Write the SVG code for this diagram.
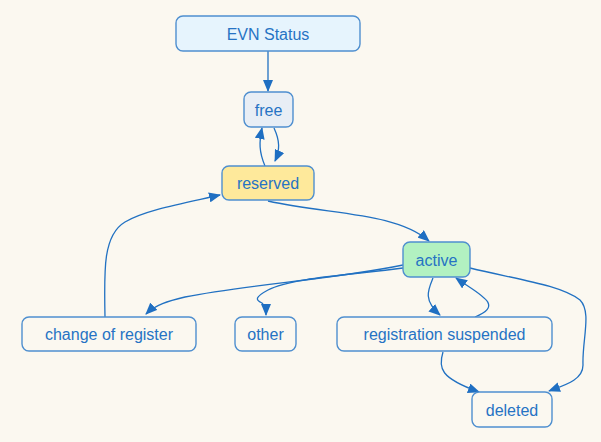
<svg xmlns="http://www.w3.org/2000/svg" width="601" height="442" viewBox="0 0 601 442">
<style>
.n rect{stroke:#4f8fcf;stroke-width:1.4;}
.n text{font-family:"Liberation Sans",Arial,sans-serif;font-size:16px;fill:#2673c4;text-anchor:middle;}
.e path{fill:none;stroke:#2171c2;stroke-width:1.3;marker-end:url(#ah);}
</style>
<defs>
<marker id="ah" viewBox="0 0 12 10" refX="11" refY="5" markerWidth="12" markerHeight="10" markerUnits="userSpaceOnUse" orient="auto">
<path d="M0,0 L12,5 L0,10 z" fill="#1f6fc2"/>
</marker>
</defs>
<rect width="601" height="442" fill="#fbf8f0"/>
<g id="connectors" class="e">
<path d="M268,51 L268,91"/>
<path d="M265,166 C259,152 259,142 262,128"/>
<path d="M274,128 C280,141 280,150 275,161"/>
<path d="M268,201 C330,215 395,212 429,241"/>
<path d="M105,317 C104,270 103,235 125,222 C145,210 185,203 220,195"/>
<path d="M403,265 C330,280 250,284 185,297 C168,301 155,305 146,314"/>
<path d="M403,268 C350,275 290,278 268,290 C255,297 255,300 262,303 C265,306 266,310 266,315"/>
<path d="M433,278 C428,290 423,300 440,315"/>
<path d="M475,317 C505,305 480,295 456,278"/>
<path d="M470,268 C520,280 560,285 580,300 C592,312 582,340 583,365 C583,380 565,385 549,391"/>
<path d="M443,352 C438,368 440,378 479,392"/>
</g>
<g id="evn-status" class="n"><rect x="176" y="16" width="184" height="35" rx="7" fill="#e6f4fd"/><text x="268" y="39.5">EVN Status</text></g>
<g id="free" class="n"><rect x="244" y="92" width="49" height="35" rx="7" fill="#e8eef5"/><text x="268.5" y="115.5">free</text></g>
<g id="reserved" class="n"><rect x="222" y="166" width="92" height="34" rx="7" fill="#fee99b"/><text x="268" y="189">reserved</text></g>
<g id="active" class="n"><rect x="403" y="242" width="67" height="35" rx="7" fill="#b2f1c1"/><text x="436.5" y="265.5">active</text></g>
<g id="change-of-register" class="n"><rect x="22" y="317" width="174" height="34" rx="7" fill="#fbf8f0"/><text x="109" y="340">change of register</text></g>
<g id="other" class="n"><rect x="235" y="317" width="61" height="34" rx="7" fill="#fbf8f0"/><text x="265.5" y="340">other</text></g>
<g id="registration-suspended" class="n"><rect x="337" y="317" width="215" height="34" rx="7" fill="#fbf8f0"/><text x="444.5" y="340">registration suspended</text></g>
<g id="deleted" class="n"><rect x="472" y="392" width="80" height="35" rx="7" fill="#fbf8f0"/><text x="512" y="415.5">deleted</text></g>
</svg>
